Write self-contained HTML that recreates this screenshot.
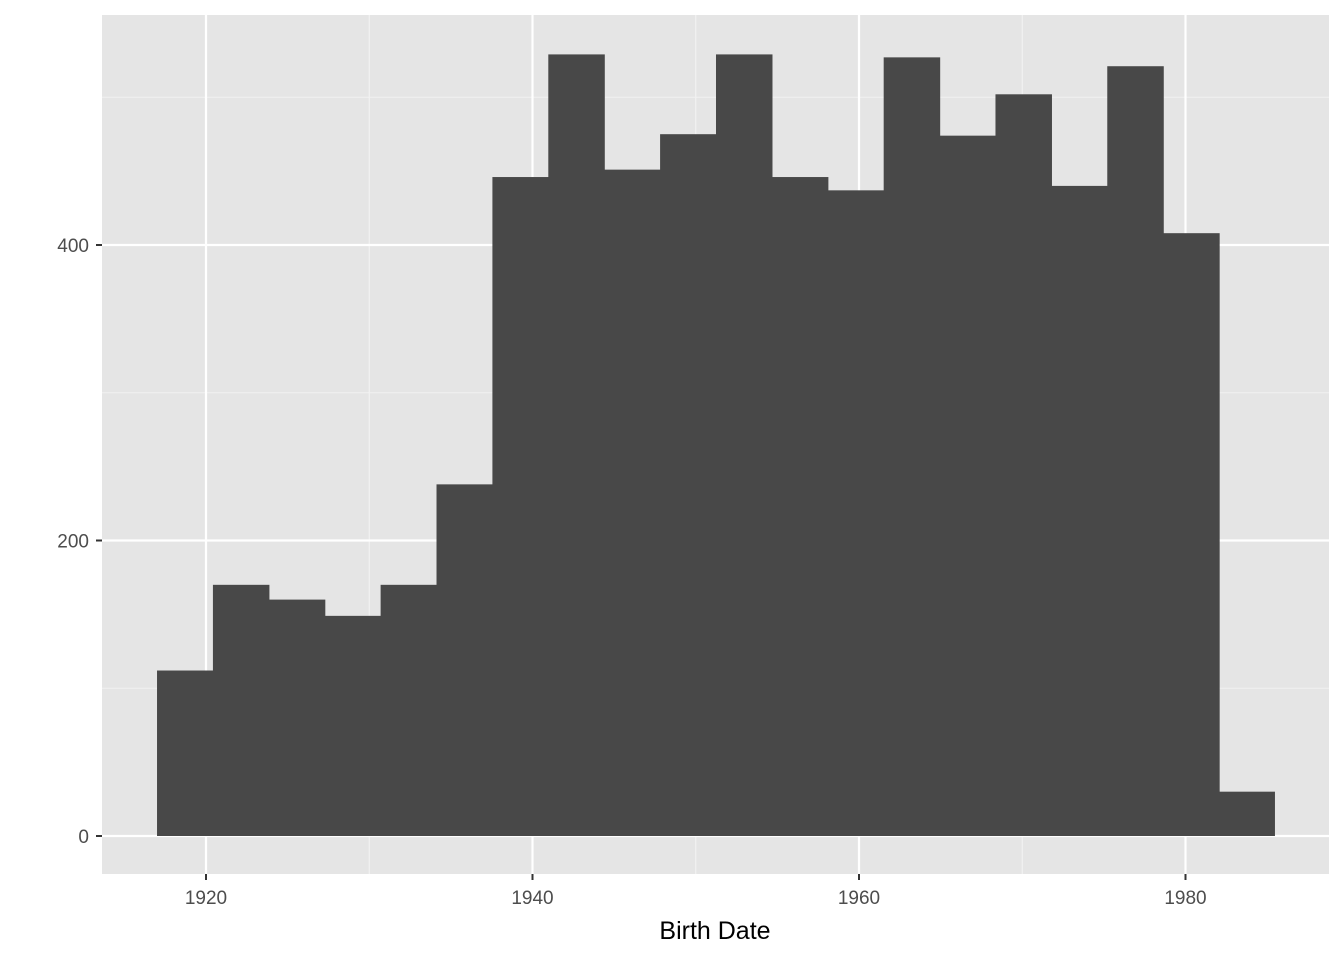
<!DOCTYPE html>
<html><head><meta charset="utf-8"><style>
body{margin:0;background:#fff;}
svg{display:block;font-family:"Liberation Sans",Arial,sans-serif;}
</style></head><body>
<svg id="chart" width="1344" height="960">
<rect x="0" y="0" width="1344" height="960" fill="#fff"/>
<rect x="102" y="15" width="1227" height="859" fill="#e5e5e5"/>
<g id="grid"></g><g id="bars"></g><g id="axes"></g>
<text x="715" y="939" text-anchor="middle" font-size="25" fill="#000">Birth Date</text>
</svg>
<script>
const binStart = 1917.0;
const binWidth = 3.424;
const counts = [112,170,160,149,170,238,446,529,451,475,529,446,437,527,474,502,440,521,408,30];
const yTicks = [0,200,400];
const yMinor = [100,300,500];
const xTicks = [1920,1940,1960,1980];
const xMinor = [1930,1950,1970];
const ns="http://www.w3.org/2000/svg";
const X=v=>206+(v-1920)*326.5/20;
const Y=v=>836-v*1.4775;
function mk(t,a,p){const e=document.createElementNS(ns,t);for(const k in a)e.setAttribute(k,a[k]);p.appendChild(e);return e;}
const g=document.getElementById('grid'),b=document.getElementById('bars'),ax=document.getElementById('axes');
yMinor.forEach(v=>{const l=mk('line',{x1:102,x2:1329,y1:Y(v),y2:Y(v),stroke:'#f2f2f2','stroke-width':1.1},g);

});
xMinor.forEach(v=>{const l=mk('line',{x1:X(v),x2:X(v),y1:15,y2:874,stroke:'#f2f2f2','stroke-width':1.1},g);

});
yTicks.forEach(v=>{const l=mk('line',{x1:102,x2:1329,y1:Y(v),y2:Y(v),stroke:'#fff','stroke-width':2.2},g);


const t=mk('line',{x1:96,x2:102,y1:Y(v),y2:Y(v),stroke:'#333','stroke-width':2},ax);


const tx=mk('text',{x:89,y:Y(v)+7,'text-anchor':'end','font-size':19,fill:'#4d4d4d'},ax);tx.textContent=v;

});
xTicks.forEach(v=>{const l=mk('line',{x1:X(v),x2:X(v),y1:15,y2:874,stroke:'#fff','stroke-width':2.2},g);


const t=mk('line',{x1:X(v),x2:X(v),y1:874,y2:880,stroke:'#333','stroke-width':2},ax);


const tx=mk('text',{x:X(v),y:904,'text-anchor':'middle','font-size':19,fill:'#4d4d4d'},ax);tx.textContent=v;

});
counts.forEach((c,i)=>{const x0=X(binStart+i*binWidth),x1=X(binStart+(i+1)*binWidth);
const r=mk('rect',{x:x0,y:Y(c),width:x1-x0+(i<counts.length-1?0.6:0),height:Y(0)-Y(c),fill:'#484848'},b);

});
</script>
</body></html>
